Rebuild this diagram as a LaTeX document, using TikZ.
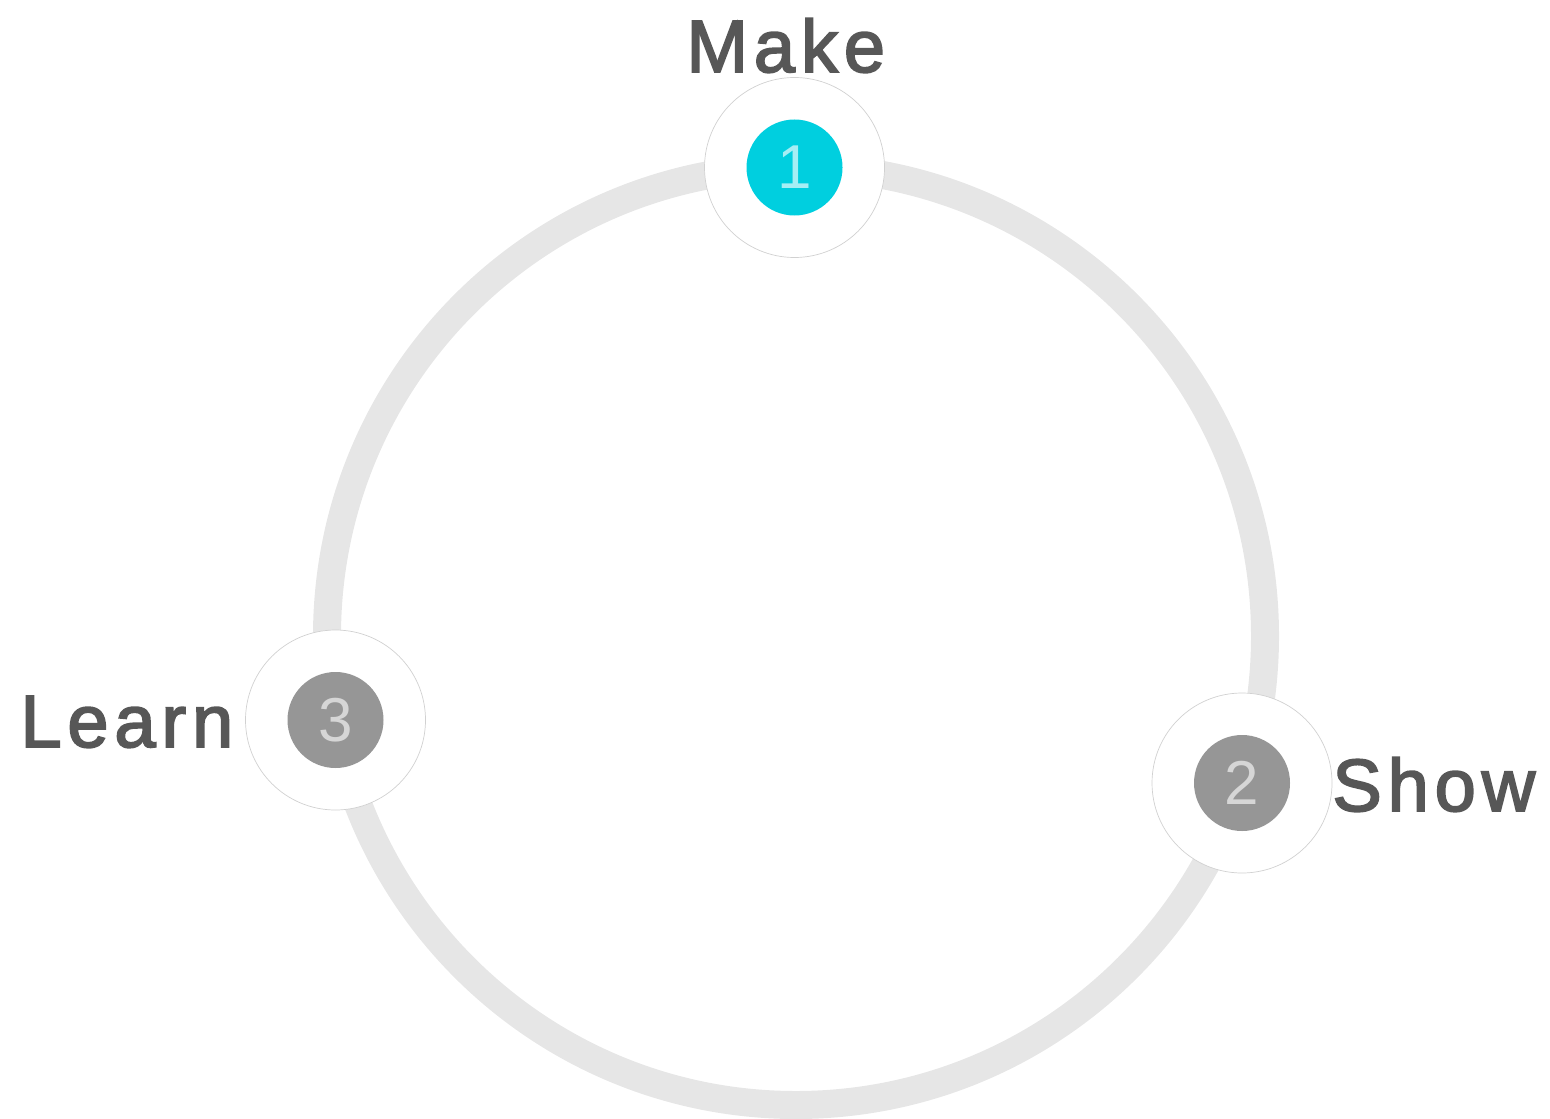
\documentclass[tikz,border=0pt]{standalone}
\usepackage{fontspec}
\setmainfont{Liberation Sans}
\newfontfamily\labelfont[LetterSpace=8,FakeBold=2.5]{Liberation Sans}
\definecolor{ringgray}{HTML}{E6E6E6}
\definecolor{txtgray}{HTML}{575757}
\definecolor{cyanfill}{HTML}{00CFDF}
\definecolor{dotgray}{HTML}{969696}
\definecolor{cyandigit}{HTML}{A6EEF4}
\definecolor{graydigit}{HTML}{D6D6D6}
\begin{document}
\begin{tikzpicture}[x=0.5pt,y=-0.5pt,
  halo/.style={circle,fill=white,draw=black!18,line width=0.35pt,minimum size=90pt,inner sep=0pt},
  dot/.style={circle,minimum size=48pt,inner sep=0pt,font=\fontsize{31}{31}\selectfont},
  lbl/.style={inner sep=0pt,text=txtgray,font=\labelfont\fontsize{37}{40}\selectfont}]
\useasboundingbox (0,0) rectangle (1550,1118);
\coordinate (ctr) at (796,636);
\draw[ringgray,line width=14pt] (ctr) circle[radius=469];
\node[halo] (h1) at (794.5,167.5) {};
\node[halo] (h3) at (335.5,720) {};
\node[halo] (h2) at (1242,783) {};
\node[dot,fill=cyanfill,text=cyandigit] (d1) at (h1.center) {1};
\node[dot,fill=dotgray,text=graydigit] (d3) at (h3.center) {3};
\node[dot,fill=dotgray,text=graydigit] (d2) at (h2.center) {2};
\node[lbl,anchor=base west] (make) at (686,72) {Make};
\node[lbl,anchor=base west] (learn) at (20,747) {Learn};
\node[lbl,anchor=base west] (show) at (1332,811) {Show};
\end{tikzpicture}
\end{document}
